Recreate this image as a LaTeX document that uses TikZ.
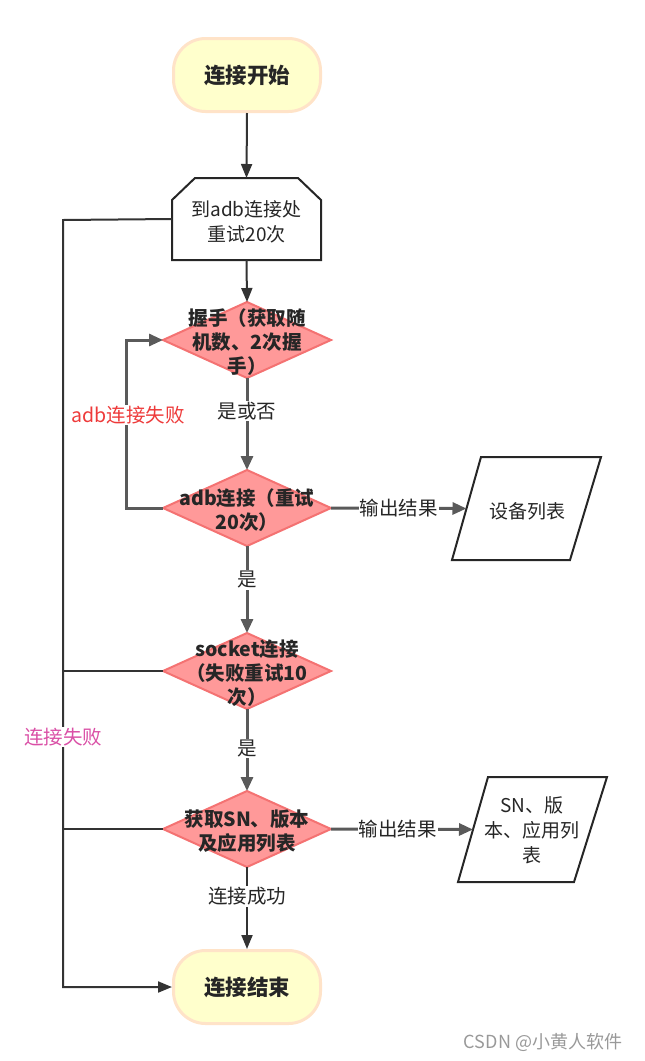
\documentclass[tikz,border=0pt]{standalone}
\usepackage{fontspec}
\setmainfont{Noto Sans CJK SC}
\usetikzlibrary{shapes.geometric,arrows.meta}
\definecolor{diaF}{HTML}{FF9999}
\definecolor{diaB}{HTML}{F47272}
\definecolor{termF}{HTML}{FFFFCC}
\definecolor{termB}{HTML}{FFE3C8}
\definecolor{txt}{HTML}{262626}
\definecolor{dk}{HTML}{333333}
\definecolor{gr}{HTML}{5A5A5A}
\definecolor{redl}{HTML}{EE3A3A}
\definecolor{pinkl}{HTML}{DA4FA6}
\begin{document}
\begin{tikzpicture}[x=1pt,y=-1pt,
  term/.style={rectangle,rounded corners=32pt,draw=termB,fill=termF,line width=3pt,
    minimum width=147pt,minimum height=73pt,text=txt,font=\bfseries\fontsize{21.5}{25}\selectfont},
  dia/.style={diamond,draw=diaB,fill=diaF,line width=2pt,minimum width=168pt,
    minimum height=76pt,inner sep=0pt,outer sep=0pt},
  dtext/.style={align=center,text=txt,font=\bfseries\fontsize{19.5}{24}\selectfont},
  ghost/.style={inner sep=0pt,outer sep=0pt},
  shapeline/.style={draw=txt,line width=2pt,line join=miter},
  ntext/.style={align=center,text=txt,font=\fontsize{19}{25}\selectfont},
  lab/.style={fill=white,inner sep=1pt,text=txt,font=\fontsize{19.5}{22}\selectfont},
  dkline/.style={draw=dk,line width=2pt},
  grline/.style={draw=gr,line width=3pt},
  dkarrow/.style={dkline,-{Triangle[length=14pt,width=11pt]}},
  grarrow/.style={grline,-{Triangle[length=14pt,width=12pt]}}]
\useasboundingbox (0,0) rectangle (645,1061);

% terminators
\node[term] (start) at (247,75) {连接开始};
\node[term] (end) at (247,987) {连接结束};

% loop limit box
\node[ghost,minimum width=149pt,minimum height=82pt] (box) at (246.5,219) {};
\draw[shapeline] ([xshift=23pt]box.north west) -- ([xshift=-23pt]box.north east)
  -- ([yshift=-22pt]box.north east) -- (box.south east) -- (box.south west)
  -- ([yshift=-22pt]box.north west) -- cycle;
\node[ntext] (boxt) at (246.5,222) {到adb连接处\\重试20次};

% diamonds
\node[dia] (d1) at (247,340) {};
\node[dtext] (d1t) at (247,342) {握手（获取随\\机数、2次握\\手）};
\node[dia] (d2) at (247,508) {};
\node[dtext] (d2t) at (247,510) {adb连接（重试\\20次）};
\node[dia] (d3) at (247,671) {};
\node[dtext] (d3t) at (247,673) {socket连接\\（失败重试10\\次）};
\node[dia] (d4) at (247,829) {};
\node[dtext] (d4t) at (247,831) {获取SN、版本\\及应用列表};

% parallelograms
\node[ghost,minimum width=149pt,minimum height=103pt] (p1) at (526.5,508.5) {};
\draw[shapeline] (p1.south west) -- ([xshift=29pt]p1.north west) -- (p1.north east)
  -- ([xshift=-31pt]p1.south east) -- cycle;
\node[ntext] (p1t) at (527,511) {设备列表};
\coordinate (p1in) at ([xshift=14.5pt]p1.west);

\node[ghost,minimum width=149pt,minimum height=105pt] (p2) at (532.5,829.5) {};
\draw[shapeline] (p2.south west) -- ([xshift=30pt]p2.north west) -- (p2.north east)
  -- ([xshift=-33pt]p2.south east) -- cycle;
\node[ntext] (p2t) at (532,830) {SN、版\\本、应用列\\表};
\coordinate (p2in) at ([xshift=15pt]p2.west);

% main flow
\draw[dkarrow] (start.south) -- (box.north);
\draw[dkarrow] (box.south) -- (d1.north);
\draw[grarrow] (d1.south) -- node[lab,pos=0.36] (l1) {是或否} (d2.north);
\draw[grarrow] (d2.south) -- node[lab,pos=0.39] (l2) {是} (d3.north);
\draw[grarrow] (d3.south) -- node[lab,pos=0.48] (l3) {是} (d4.north);
\draw[dkarrow] (d4.south) -- node[lab,pos=0.36] (l4) {连接成功} (end.north);

% outputs
\draw[grarrow] (d2.east) -- node[lab,pos=0.5] (l5) {输出结果} (p1in);
\draw[grarrow] (d4.east) -- node[lab,pos=0.47] (l6) {输出结果} (p2in);

% adb retry loop
\coordinate (lp) at (126,508);
\draw[grarrow] (d2.west) -- (lp) |- (d1.west);
\node[lab,text=redl] (l7) at (128,415) {adb连接失败};

% failure line
\coordinate (lt) at (63,220);
\coordinate (lb) at (63,987);
\draw[dkarrow] (box.west) -- (lt) -- (lb) -- (end.west);
\draw[dkline] (d3.west) -- (d3.west -| lt);
\draw[dkline] (d4.west) -- (d4.west -| lt);
\node[lab,text=pinkl] (l8) at (63,737) {连接失败};

% watermark
\node[text=gray!80,font=\fontsize{18}{20}\selectfont] (wm) at (543,1042) {CSDN @小黄人软件};
\end{tikzpicture}
\end{document}
